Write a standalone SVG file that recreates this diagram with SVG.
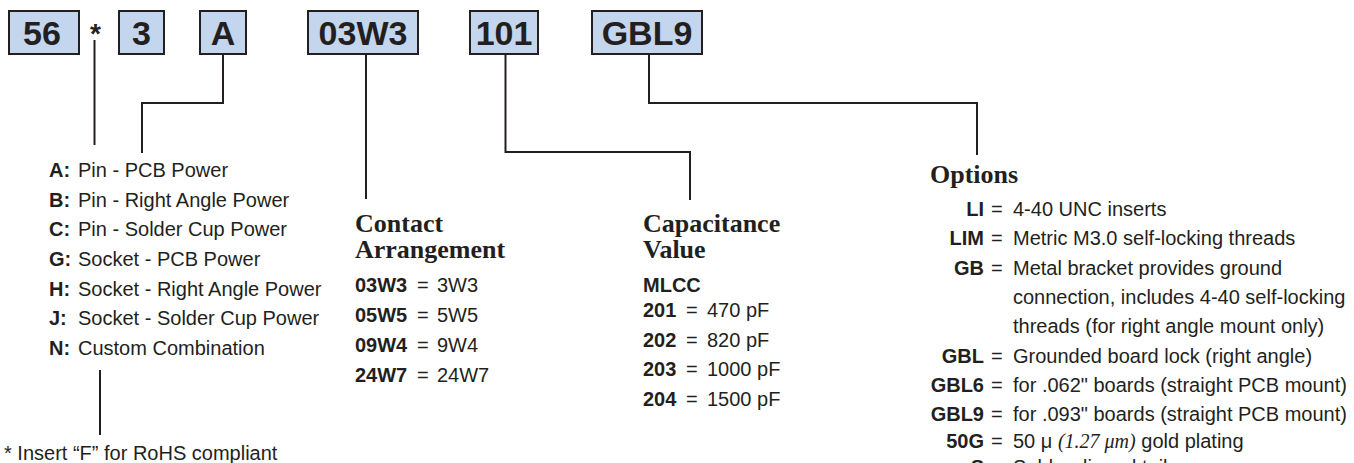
<svg xmlns="http://www.w3.org/2000/svg" width="1354" height="463" viewBox="0 0 1354 463">
<style>
text{font-family:"Liberation Sans",Arial,sans-serif;fill:#231f20;font-size:20px}
.box rect{fill:#c4d5ee;stroke:#231f20;stroke-width:2}
.box text{font-size:34px;font-weight:bold;text-anchor:middle}
.b{font-weight:bold}
.h{font-family:"Liberation Serif","Times New Roman",serif;font-weight:bold;font-size:26px}
.r{text-anchor:end}
.it{font-family:"Liberation Serif","Times New Roman",serif;font-style:italic}
.conn path{fill:none;stroke:#231f20;stroke-width:2}
</style>
<rect width="1354" height="463" fill="#ffffff"/>
<g class="conn" id="connectors">
<path d="M94.5 40V145"/>
<path d="M223 55V103H142V153"/>
<path d="M366 55V199"/>
<path d="M505.5 55V152H690V200"/>
<path d="M649 55V103H977V155"/>
<path d="M100 370V435"/>
</g>
<g id="box56" class="box"><rect x="9" y="11" width="70" height="43"/><text x="42" y="45">56</text></g>
<g id="star"><text x="95.5" y="43" class="b" style="font-size:28px;text-anchor:middle">*</text></g>
<g id="box3" class="box"><rect x="119" y="11" width="45" height="43"/><text x="141.5" y="45">3</text></g>
<g id="boxA" class="box"><rect x="200" y="11" width="46" height="43"/><text x="223" y="45">A</text></g>
<g id="box03W3" class="box"><rect x="308" y="11" width="110" height="43"/><text x="363" y="45">03W3</text></g>
<g id="box101" class="box"><rect x="470" y="11" width="68" height="43"/><text x="504" y="45">101</text></g>
<g id="boxGBL9" class="box"><rect x="592" y="11" width="110" height="43"/><text x="647" y="45">GBL9</text></g>
<g id="contacts">
<text x="49" y="177"><tspan class="b">A:</tspan><tspan x="78">Pin - PCB Power</tspan></text>
<text x="49" y="206.5"><tspan class="b">B:</tspan><tspan x="78">Pin - Right Angle Power</tspan></text>
<text x="49" y="236"><tspan class="b">C:</tspan><tspan x="78">Pin - Solder Cup Power</tspan></text>
<text x="49" y="265.5"><tspan class="b">G:</tspan><tspan x="78">Socket - PCB Power</tspan></text>
<text x="49" y="295.5"><tspan class="b">H:</tspan><tspan x="78">Socket - Right Angle Power</tspan></text>
<text x="49" y="325"><tspan class="b">J:</tspan><tspan x="78">Socket - Solder Cup Power</tspan></text>
<text x="49" y="354.5"><tspan class="b">N:</tspan><tspan x="78">Custom Combination</tspan></text>
</g>
<g id="footnote"><text x="4" y="460">* Insert “F” for RoHS compliant</text></g>
<g id="arrangement">
<text x="355" y="232" class="h">Contact</text>
<text x="355" y="258" class="h">Arrangement</text>
<text x="355" y="292"><tspan class="b">03W3</tspan><tspan x="417">=</tspan><tspan x="437">3W3</tspan></text>
<text x="355" y="322"><tspan class="b">05W5</tspan><tspan x="417">=</tspan><tspan x="437">5W5</tspan></text>
<text x="355" y="352"><tspan class="b">09W4</tspan><tspan x="417">=</tspan><tspan x="437">9W4</tspan></text>
<text x="355" y="382"><tspan class="b">24W7</tspan><tspan x="417">=</tspan><tspan x="437">24W7</tspan></text>
</g>
<g id="capacitance">
<text x="643" y="232" class="h">Capacitance</text>
<text x="643" y="258" class="h">Value</text>
<text x="643" y="292" class="b">MLCC</text>
<text x="643" y="317"><tspan class="b">201</tspan><tspan x="686">=</tspan><tspan x="707">470 pF</tspan></text>
<text x="643" y="346.5"><tspan class="b">202</tspan><tspan x="686">=</tspan><tspan x="707">820 pF</tspan></text>
<text x="643" y="376"><tspan class="b">203</tspan><tspan x="686">=</tspan><tspan x="707">1000 pF</tspan></text>
<text x="643" y="405.5"><tspan class="b">204</tspan><tspan x="686">=</tspan><tspan x="707">1500 pF</tspan></text>
</g>
<g id="options">
<text x="930" y="183" class="h">Options</text>
<text x="984" y="216" class="b r">LI</text><text x="991" y="216">=</text><text x="1013" y="216">4-40 UNC inserts</text>
<text x="984" y="245.3" class="b r">LIM</text><text x="991" y="245.3">=</text><text x="1013" y="245.3">Metric M3.0 self-locking threads</text>
<text x="984" y="274.6" class="b r">GB</text><text x="991" y="274.6">=</text><text x="1013" y="274.6">Metal bracket provides ground</text>
<text x="1013" y="303.9">connection, includes 4-40 self-locking</text>
<text x="1013" y="333.2">threads (for right angle mount only)</text>
<text x="984" y="362.5" class="b r">GBL</text><text x="991" y="362.5">=</text><text x="1013" y="362.5">Grounded board lock (right angle)</text>
<text x="984" y="391.8" class="b r">GBL6</text><text x="991" y="391.8">=</text><text x="1013" y="391.8">for .062" boards (straight PCB mount)</text>
<text x="984" y="421.1" class="b r">GBL9</text><text x="991" y="421.1">=</text><text x="1013" y="421.1">for .093" boards (straight PCB mount)</text>
<text x="984" y="448" class="b r">50G</text><text x="991" y="448">=</text><text x="1013" y="448">50 μ <tspan class="it">(1.27 μm)</tspan> gold plating</text>
<text x="984" y="474" class="b r">S</text><text x="991" y="474">=</text><text x="1013" y="474">Solder dipped tails</text>
</g>
</svg>
